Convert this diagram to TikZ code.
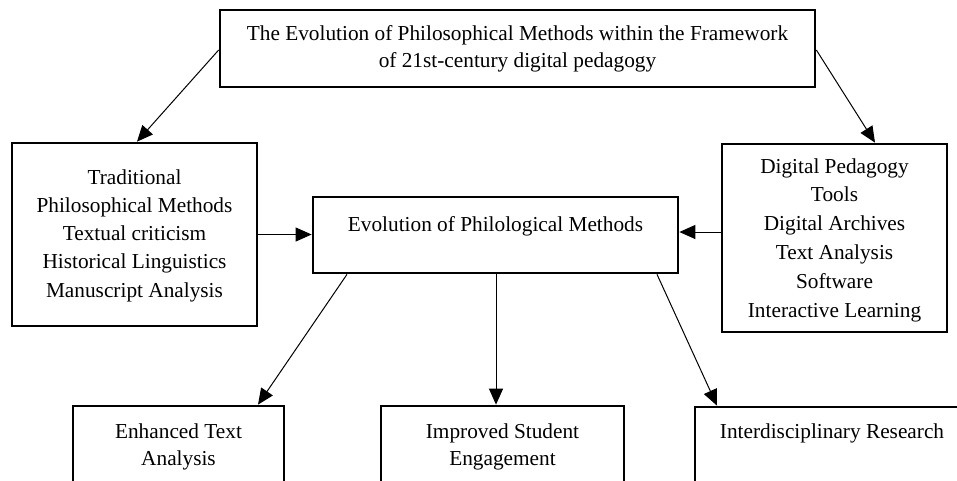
\documentclass[tikz,border=0pt]{standalone}
\usepackage{fontspec}
\setmainfont{Liberation Serif}
\usetikzlibrary{arrows.meta,calc}
\begin{document}
\begin{tikzpicture}[x=1pt,y=-1pt,
  box/.style={draw, line width=2.7pt, inner sep=0pt, fill=none},
  txt/.style={inner sep=0pt, anchor=base, font=\fontsize{21.3}{28.3}\selectfont},
  txtb/.style={inner sep=0pt, anchor=base, font=\fontsize{21.3}{27}\selectfont},
  arr/.style={-{Triangle[length=16pt,width=14pt]}, line width=1pt}]
\useasboundingbox (0,0) rectangle (957,480);
\clip (0,0) rectangle (957,480);
% boxes
\node[box, minimum width=595pt, minimum height=77pt] (top) at (517.5,48.5) {};
\node[box, minimum width=245pt, minimum height=183pt] (left) at (134.5,234.5) {};
\node[box, minimum width=365pt, minimum height=76pt] (mid) at (495.5,235) {};
\node[box, minimum width=225pt, minimum height=188pt] (right) at (834.5,238) {};
\node[box, minimum width=211pt, minimum height=100pt] (bl) at (178.5,456) {};
\node[box, minimum width=243pt, minimum height=100pt] (bm) at (502.5,456) {};
\node[box, minimum width=274pt, minimum height=100pt] (br) at (832,457) {};
% texts
\node[txtb] (ttop) at (517.5,40) {\begin{tabular}[t]{@{}c@{}}The Evolution of Philosophical Methods within the Framework\\ of 21st-century digital pedagogy\end{tabular}};
\node[txt] (tleft) at (134.5,184) {\begin{tabular}[t]{@{}c@{}}Traditional\\ Philosophical Methods\\ Textual criticism\\ Historical Linguistics\\ Manuscript Analysis\end{tabular}};
\node[txt] (tmid) at (495.5,231) {Evolution of Philological Methods};
\node[txt, font=\fontsize{21.3}{28.8}\selectfont] (tright) at (834.5,173) {\begin{tabular}[t]{@{}c@{}}Digital Pedagogy\\ Tools\\ Digital Archives\\ Text Analysis\\ Software\\ Interactive Learning\end{tabular}};
\node[txtb] (tbl) at (178.5,438) {\begin{tabular}[t]{@{}c@{}}Enhanced Text\\ Analysis\end{tabular}};
\node[txtb] (tbm) at (502.5,438) {\begin{tabular}[t]{@{}c@{}}Improved Student\\ Engagement\end{tabular}};
\node[txt] (tbr) at (832,438) {Interdisciplinary Research};
% connectors
\draw[arr] ($(top.west)+(0,1.5)$) -- ($(left.north)+(2.5,0)$);
\draw[arr] ($(top.east)+(0,1.5)$) -- ($(right.north)+(40.5,0)$);
\draw[arr] (left.east) -- (left.east -| mid.west);
\draw[arr] ($(right.west)+(0,-6)$) coordinate (rw) -- (rw -| mid.east);
\draw[arr] ($(mid.south)+(-148.5,0)$) -- ($(bl.north)+(79.5,0)$);
\draw[arr] ($(mid.south)+(0.5,0)$) coordinate (ms) -- (ms |- bm.north);
\draw[arr] ($(mid.south)+(161.5,0)$) -- ($(br.north)+(-115,0)$);
\end{tikzpicture}
\end{document}
